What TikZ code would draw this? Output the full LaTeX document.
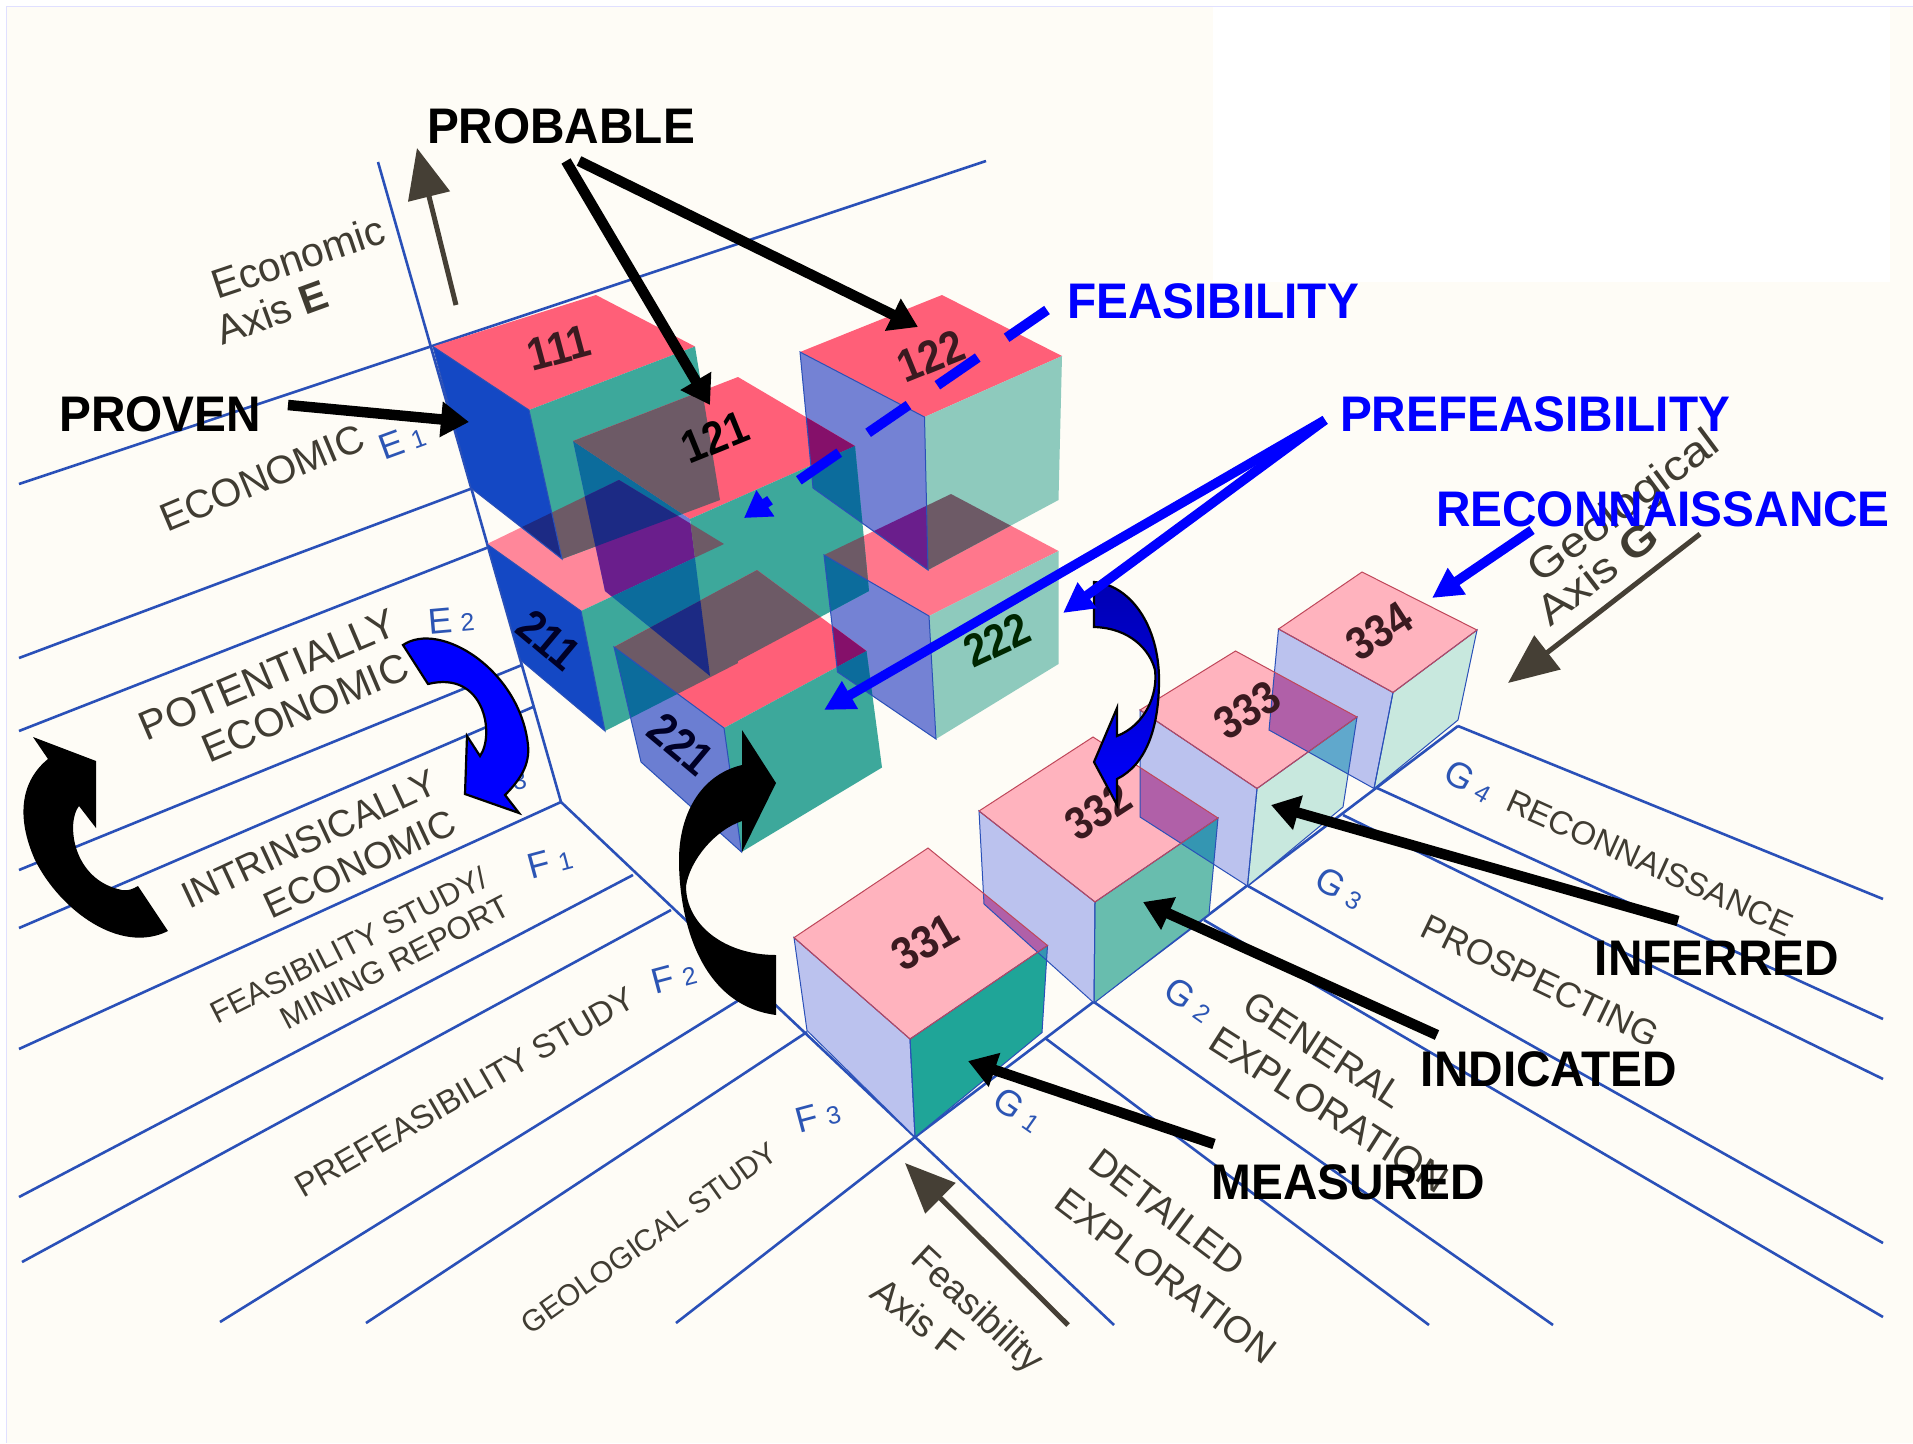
\documentclass[tikz,border=0pt]{standalone}
\usepackage{fontspec}
\setmainfont{Liberation Sans}
\newfontfamily\lblfont{Liberation Sans}[FakeStretch=0.955]
\newfontfamily\numfont{Liberation Sans}[FakeStretch=0.88]
\newfontfamily\widefont{Liberation Sans}[FakeStretch=1.14]
\usetikzlibrary{arrows.meta}
\definecolor{paper}{HTML}{FEFCF6}
\definecolor{grid}{HTML}{2A50B8}
\definecolor{ink}{HTML}{403C32}
\definecolor{axisink}{HTML}{453F35}
\definecolor{tagblue}{HTML}{2C55B4}
\definecolor{red1}{HTML}{FF5F78}
\definecolor{blue1}{HTML}{1448C4}
\definecolor{teal1}{HTML}{3DA89B}
\definecolor{lil1}{HTML}{6B7ED2}
\definecolor{lil2}{HTML}{7482D4}
\definecolor{teal2}{HTML}{8ECABD}
\definecolor{gray1}{HTML}{6D5A66}
\definecolor{navy1}{HTML}{1C2A84}
\definecolor{purp1}{HTML}{6A1E8C}
\definecolor{purp2}{HTML}{85106A}
\definecolor{tb1}{HTML}{0C6C9C}
\definecolor{pink3}{HTML}{FFB3BE}
\definecolor{lil3}{HTML}{BBC2EE}
\definecolor{teal31}{HTML}{1FA598}
\definecolor{teal32}{HTML}{68BDAE}
\definecolor{teal33}{HTML}{C8E8DE}
\definecolor{purp3}{HTML}{B060A8}
\definecolor{tb3}{HTML}{3496B2}
\definecolor{tb4}{HTML}{60A8CC}
\definecolor{numdark}{HTML}{3A1A20}
% faces of the cubes
\def\QaT{(433,346.5)--(596,295)--(695,346.5)--(529,410)--cycle}
\def\QaL{(433,346.5)--(529,410)--(562,559)--(471,488)--cycle}
\def\QaR{(529,410)--(695,346.5)--(720,500)--(562,559)--cycle}
\def\QbT{(487,544)--(619,480)--(724,544)--(581,611)--cycle}
\def\QbL{(487,544)--(581,611)--(605,731)--(520.5,660)--cycle}
\def\QbR{(581,611)--(724,544)--(738,663)--(605,731)--cycle}
\def\QcT{(573,441)--(738,377)--(855,446)--(690,519)--cycle}
\def\QcL{(573,441)--(690,519)--(710,676)--(605,591)--cycle}
\def\QcR{(690,519)--(855,446)--(869,591)--(710,676)--cycle}
\def\QdT{(800,352)--(942,295)--(1062,356)--(924.5,417)--cycle}
\def\QdL{(800,352)--(924.5,417)--(928,570)--(813,488)--cycle}
\def\QdR{(924.5,417)--(1062,356)--(1058.5,500)--(928,570)--cycle}
\def\QeT{(824,555)--(951,494)--(1058.5,551)--(929,616)--cycle}
\def\QeL{(824,555)--(929,616)--(936,739)--(837.5,672)--cycle}
\def\QeR{(929,616)--(1058.5,551)--(1058.5,664)--(936,739)--cycle}
\def\QfT{(614,647)--(757,570)--(866.5,651)--(724,728)--cycle}
\def\QfL{(614,647)--(724,728)--(741.5,852)--(641,762)--cycle}
\def\QfR{(724,728)--(866.5,651)--(882,767.5)--(741.5,852)--cycle}
\def\QgT{(794,937.6)--(928,848)--(1047.5,945.5)--(910,1039)--cycle}
\def\QgL{(794,937.6)--(910,1039)--(915,1137)--(807,1030.5)--cycle}
\def\QgR{(910,1039)--(1047.5,945.5)--(1042,1032.5)--(915,1137)--cycle}
\def\QhT{(979,811)--(1093,737)--(1218,818)--(1095,902)--cycle}
\def\QhL{(979,811)--(1095,902)--(1094,1003)--(984,904)--cycle}
\def\QhR{(1095,902)--(1218,818)--(1209,914)--(1094,1003)--cycle}
\def\QiT{(1140,710)--(1235.5,651)--(1357,717)--(1257,788.5)--cycle}
\def\QiL{(1140,710)--(1257,788.5)--(1247.5,886)--(1140,817)--cycle}
\def\QiR{(1257,788.5)--(1357,717)--(1343,807)--(1247.5,886)--cycle}
\def\QjT{(1278.5,629)--(1362,572)--(1477,630)--(1393,692.5)--cycle}
\def\QjL{(1278.5,629)--(1393,692.5)--(1374,788.5)--(1269,730)--cycle}
\def\QjR{(1393,692.5)--(1477,630)--(1458,720)--(1374,788.5)--cycle}
\newcommand\ovl[3]{\begin{scope}\clip #2;\fill[#1] #3;\end{scope}}
\newcommand\ovt[4]{\begin{scope}\clip #2;\clip #3;\fill[#1] #4;\end{scope}}
\newcommand\cube[6]{\fill[#4] #1;\fill[#5] #2;\fill[#6] #3;}
\newcommand\rim[3]{\draw[edgeL] #2;\draw[edgeL] #3;\draw[edgeT] #1;}
\newcommand\sub[1]{{\fontsize{25}{25}\selectfont\,\,#1}}
\tikzset{
  gridline/.style={draw=grid,line width=2.6pt},
  sm/.style={inner sep=0pt,text=ink,font=\fontsize{#1}{#1}\selectfont},
  wsm/.style={inner sep=0pt,text=ink,font=\fontsize{#1}{#1}\widefont},
  tag/.style={inner sep=0pt,text=tagblue,font=\fontsize{36}{36}\selectfont},
  lab/.style={inner sep=0pt,text=black,font=\fontsize{50}{50}\lblfont\bfseries},
  blab/.style={inner sep=0pt,text=blue,font=\fontsize{50}{50}\lblfont\bfseries},
  num/.style={inner sep=0pt,text=numdark,font=\fontsize{46}{46}\numfont\bfseries},
  edgeT/.style={draw=red1!75!black,line width=1pt},
  edgeL/.style={draw=grid,line width=1pt},
  axisarrow/.style={draw=axisink,line width=5pt,-{Triangle[length=50pt,width=42pt]}},
  blackarrow/.style={draw=black,line width=10.5pt,-{Triangle[length=28pt,width=34pt]}},
  bluearrow/.style={draw=blue,line width=9.5pt,-{Triangle[length=30pt,width=30pt]}},
  dasharrow/.style={draw=blue,line width=10pt,dash pattern=on 49pt off 35pt,-{Triangle[length=26pt,width=30pt]}}
}
\begin{document}
\begin{tikzpicture}[x=1pt,y=-1pt]
\useasboundingbox (0,0) rectangle (1913,1443);
% paper
\fill[white] (0,0) rectangle (1913,1443);
\fill[paper] (6,6) rectangle (1913,1443);
\fill[white] (1213,6) rectangle (1890,282);
\draw[blue!12,line width=.8pt] (6,1443)--(6,6)--(1913,6);
% grid
\draw[gridline] (378,162)--(561,802)--(915,1137)--(1458,726);
\draw[gridline] (986,161)--(19,484);
\draw[gridline] (473,488)--(19,658);
\draw[gridline] (489,547)--(19,731);
\draw[gridline] (522,665)--(19,870);
\draw[gridline] (533,707)--(19,928);
\draw[gridline] (561,802)--(19,1049);
\draw[gridline] (633,875)--(19,1197);
\draw[gridline] (671,910)--(22,1262);
\draw[gridline] (760,987)--(220,1322);
\draw[gridline] (807,1032)--(366,1323);
\draw[gridline] (915,1137)--(676,1323);
\draw[gridline] (915,1137)--(1114,1325);
\draw[gridline] (1045,1038)--(1429,1325);
\draw[gridline] (1094,1002)--(1553,1325);
\draw[gridline] (1204,920)--(1883,1317);
\draw[gridline] (1248,886)--(1883,1243);
\draw[gridline] (1343,815)--(1883,1079);
\draw[gridline] (1377,788)--(1883,1019);
\draw[gridline] (1458,726)--(1883,899);
% printed small labels
\node[sm=41,rotate=18.5] (tEcoAxis) at (298,257) {Economic};
\node[sm=41,rotate=20] (tAxisE) at (272,312) {Axis {\bfseries E}};
\node[sm=39.5,rotate=22.8] (tEco) at (262,478) {ECONOMIC};
\node[tag,rotate=20] (tE1) at (402,441) {E\sub{1}};
\node[sm=41,rotate=23] (tPot) at (268,675) {POTENTIALLY};
\node[sm=40,rotate=23] (tPotE) at (305,708) {ECONOMIC};
\node[tag,rotate=5] (tE2) at (451,620) {E\sub{2}};
\node[sm=37.5,rotate=25] (tInt) at (309,839) {INTRINSICALLY};
\node[sm=37.5,rotate=25] (tIntE) at (360,864) {ECONOMIC};
\node[tag,rotate=10] (tE3) at (503,780) {E\sub{3}};
\node[sm=31,rotate=27] (tFs) at (349,945) {FEASIBILITY STUDY/};
\node[sm=31.5,rotate=27.5] (tMin) at (395,962) {MINING REPORT};
\node[tag,rotate=15] (tF1) at (550,862) {F\sub{1}};
\node[sm=33,rotate=30] (tPre) at (465,1092) {PREFEASIBILITY STUDY};
\node[tag,rotate=15] (tF2) at (674,977) {F\sub{2}};
\node[sm=30,rotate=35.5] (tGeo) at (649,1238) {GEOLOGICAL STUDY};
\node[tag,rotate=15] (tF3) at (818,1116) {F\sub{3}};
\node[sm=37,rotate=-43] (tFeaAxis) at (976,1311) {Feasibility};
\node[sm=38,rotate=-38] (tAxisF) at (918,1318) {Axis F};
\node[sm=38,rotate=-37] (tDet) at (1167,1212) {DETAILED};
\node[sm=37.5,rotate=-37] (tExp1) at (1166,1276) {EXPLORATION};
\node[tag,rotate=-35] (tG1) at (1018,1110) {G\sub{1}};
\node[tag,rotate=-35] (tG2) at (1189,1000) {G\sub{2}};
\node[sm=38,rotate=-33] (tGen) at (1324,1050) {GENERAL};
\node[sm=39,rotate=-32.5] (tExp2) at (1329,1110) {EXPLORATION};
\node[tag,rotate=-30] (tG3) at (1340,888) {G\sub{3}};
\node[sm=35.5,rotate=-25.7] (tPro) at (1540,981) {PROSPECTING};
\node[tag,rotate=-30] (tG4) at (1469,781) {G\sub{4}};
\node[sm=33,rotate=-24.3] (tRec) at (1650,863) {RECONNAISSANCE};
\node[wsm=42,rotate=36.7] (tGeoAxis) at (1625,508) {Geological};
\node[wsm=42,rotate=37.5] (tAxisG) at (1597,573) {Axis {\bfseries G}};
% axis arrows
\coordinate (eA) at (456,305); \coordinate (eB) at (417,148);
\coordinate (gA) at (1700,534); \coordinate (gB) at (1508,683);
\coordinate (fA) at (1068,1325); \coordinate (fB) at (905,1163);
\draw[axisarrow] (eA)--(eB);
\draw[axisarrow] (gA)--(gB);
\draw[axisarrow] (fA)--(fB);
% upper cubes, base colours
\cube{\QbT}{\QbL}{\QbR}{red1!75!white}{blue1}{teal1}
\cube{\QaT}{\QaL}{\QaR}{red1}{blue1}{teal1}
\cube{\QeT}{\QeL}{\QeR}{red1!85!white}{lil2}{teal2}
\cube{\QdT}{\QdL}{\QdR}{red1}{lil2}{teal2}
\cube{\QcT}{\QcL}{\QcR}{red1}{lil1}{teal1}
\cube{\QfT}{\QfL}{\QfR}{red1}{lil1}{teal1}
% overlaps of the translucent cubes
\ovl{gray1}{\QbT}{\QaR}
\ovl{navy1}{\QbT}{\QaL}
\ovl{tb1}{\QaR}{\QcL}
\ovl{gray1}{\QcT}{\QaR}
\ovl{purp1}{\QbT}{\QcL}
\ovl{gray1}{\QbT}{\QcR}
\ovl{tb1}{\QbR}{\QcL}
\ovl{gray1}{\QfT}{\QbR}
\ovl{gray1}{\QfT}{\QcR}
\ovl{tb1}{\QfL}{\QbR}
\ovt{navy1}{\QaR}{\QcL}{\QbT}
\ovl{navy1}{\QfT}{\QcL}
\ovl{purp2}{\QcT}{\QdL}
\ovl{tb1}{\QcR}{\QdL}
\ovl{tb1}{\QcR}{\QeL}
\ovl{gray1}{\QcR}{\QeT}
\ovl{purp1}{\QdL}{\QeT}
\ovl{gray1}{\QdR}{\QeT}
\ovl{purp2}{\QfT}{\QeL}
\ovl{tb1}{\QfR}{\QeL}
\draw[edgeL] \QdL; \draw[edgeL] \QeL; \draw[edgeL] \QfL;
\draw[edgeL] \QaL; \draw[edgeL] \QbL;
% lower row
\cube{\QjT}{\QjL}{\QjR}{pink3}{lil3}{teal33}
\cube{\QiT}{\QiL}{\QiR}{pink3}{lil3}{teal33}
\cube{\QhT}{\QhL}{\QhR}{pink3}{lil3}{teal32}
\cube{\QgT}{\QgL}{\QgR}{pink3}{lil3}{teal31}
\ovl{purp3}{\QgT}{\QhL}
\ovl{tb3}{\QgR}{\QhL}
\ovl{purp3}{\QhT}{\QiL}
\ovl{tb3}{\QhR}{\QiL}
\ovl{purp3}{\QiT}{\QjL}
\ovl{tb4}{\QiR}{\QjL}
\rim{\QjT}{\QjL}{\QjR}
\rim{\QiT}{\QiL}{\QiR}
\rim{\QhT}{\QhL}{\QhR}
\rim{\QgT}{\QgL}{\QgR}
% cube numbers
\node[num,rotate=15] (n111) at (559,348) {111};
\node[num,rotate=-40,text=black!85!blue] (n211) at (549,640) {211};
\node[num,rotate=22,text=black] (n121) at (715,437) {121};
\node[num,rotate=22] (n122) at (931,356) {122};
\node[num,rotate=-40,text=black!85!blue] (n221) at (681,744) {221};
\node[num,rotate=25,text=black!85!green] (n222) at (997,640) {222};
\node[num,rotate=30] (n331) at (925,942) {331};
\node[num,rotate=33] (n332) at (1098,811) {332};
\node[num,rotate=33] (n333) at (1247,710) {333};
\node[num,rotate=33] (n334) at (1379,631) {334};
% curved block arrows
\fill[black] (33,737)--(96,761)--(96,828)--(79,806) .. controls (66,822) and (72,880) .. (122,890) .. controls (128,891) and (133,889) .. (138,886)--(168,931) .. controls (120,955) and (60,910) .. (35,860) .. controls (15,815) and (22,780) .. (48,759)--cycle;
\fill[black] (776,783)--(742,730)--(742,765) .. controls (700,775) and (679,815) .. (679,860) .. controls (679,920) and (700,1005) .. (776,1015)--(776,955) .. controls (725,955) and (686,925) .. (686,886) .. controls (690,860) and (715,830) .. (742,821)--(742,852)--cycle;
\filldraw[fill=blue,draw=black,line width=2.2pt] (403,645) .. controls (440,620) and (520,670) .. (528,745) .. controls (530,765) and (520,780) .. (505,795)--(519,813)--(465,794)--(467,736)--(480,756) .. controls (495,735) and (485,670) .. (428,684)--cycle;
\shade[top color=blue!70!black,bottom color=blue,draw=black,line width=2.2pt] (1094,582) .. controls (1130,585) and (1159,625) .. (1159,680) .. controls (1159,730) and (1145,765) .. (1117,779)--(1117,805)--(1094,762)--(1117,708)--(1117,736) .. controls (1145,725) and (1158,695) .. (1155,670) .. controls (1150,650) and (1130,628) .. (1094,627)--cycle;
% overlay labels
\node[lab] (PROBABLE) at (561,126) {PROBABLE};
\node[lab] (PROVEN) at (160,414) {PROVEN};
\node[blab] (FEAS) at (1213,301) {FEASIBILITY};
\node[blab] (PREF) at (1535,414) {PREFEASIBILITY};
\node[blab] (RECO) at (1663,509) {RECONNAISSANCE};
\node[lab] (INFE) at (1717,958) {INFERRED};
\node[lab] (INDI) at (1549,1069) {INDICATED};
\node[lab] (MEAS) at (1348,1182) {MEASURED};
% leader ends
\coordinate (sProb1) at (566,161); \coordinate (sProb2) at (579,161);
\coordinate (e121) at (710,405); \coordinate (e122) at (918,327);
\coordinate (sProv) at (288,405); \coordinate (e111) at (469,422);
\coordinate (sFeas) at (1047,310); \coordinate (eFeas) at (744,518);
\coordinate (sPref1) at (1325,420); \coordinate (ePref1) at (824,710);
\coordinate (sPref2) at (1325,420); \coordinate (ePref2) at (1063,613);
\coordinate (sReco) at (1532,530); \coordinate (eReco) at (1432,598);
\coordinate (sInfe) at (1678,921); \coordinate (eInfe) at (1271,805);
\coordinate (sIndi) at (1437,1035); \coordinate (eIndi) at (1143,902);
\coordinate (sMeas) at (1214,1144); \coordinate (eMeas) at (968,1061);
\draw[blackarrow] (sProb1)--(e121);
\draw[blackarrow] (sProb2)--(e122);
\draw[blackarrow] (sProv)--(e111);
\draw[dasharrow] (sFeas)--(eFeas);
\draw[bluearrow] (sPref1)--(ePref1);
\draw[bluearrow] (sPref2)--(ePref2);
\draw[bluearrow] (sReco)--(eReco);
\draw[blackarrow] (sInfe)--(eInfe);
\draw[blackarrow] (sIndi)--(eIndi);
\draw[blackarrow] (sMeas)--(eMeas);
\end{tikzpicture}
\end{document}
